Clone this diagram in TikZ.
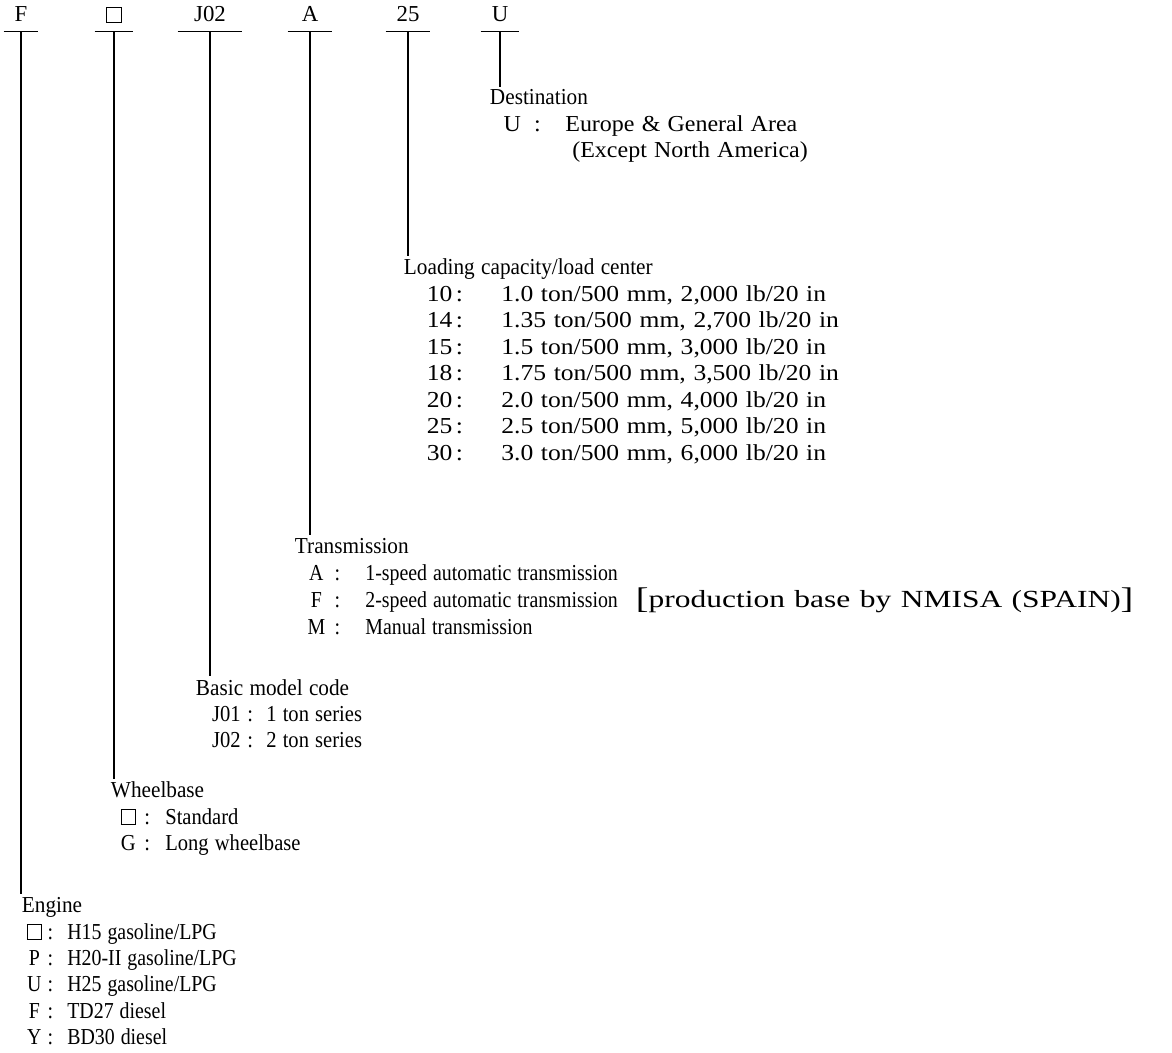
\documentclass[tikz,border=0pt]{standalone}
\usepackage{fontspec}
\setmainfont{Liberation Serif}[WordSpace=1.2]
\usepackage{array}
\usepackage{graphicx}
\usepackage{tikz}
\usetikzlibrary{positioning}

\newcommand{\blankbox}{{\setlength{\fboxsep}{0pt}\setlength{\fboxrule}{0.5pt}\fbox{\rule{0pt}{0.62em}\hspace{0.58em}}}}
\newcommand{\tallbr}[1]{{\fontsize{17}{15.08}\selectfont\raisebox{-0.5pt}{#1}}}

\begin{document}
\begin{tikzpicture}[
    x=0.02cm, y=-0.02cm,
    font=\fontsize{13}{15.08}\selectfont,
    code/.style={anchor=base, inner xsep=0pt, inner ysep=5pt, text depth=0pt, minimum width=#1},
    code/.default=0.7cm,
    heading/.style={anchor=base west, inner sep=1.5pt, font=\fontsize{13}{15.08}\selectfont\addfontfeatures{FakeStretch=0.93}},
    items/.style={anchor=base west, inner sep=0pt, font=\fontsize{13}{15.08}\selectfont\addfontfeatures{FakeStretch=#1}},
    items/.default=1,
    leader/.style={line width=0.7pt}
]
    \useasboundingbox (0,0) rectangle (1172,1053);

    % model code (top row)
    \node[code=0.68cm] (cf) at (21, 22) {F};
    \node[code=0.76cm] (cw) at (114, 22) {\blankbox};
    \node[code=1.28cm] (cj) at (210, 22) {J02};
    \node[code=0.88cm] (ca) at (310, 22) {A};
    \node[code=0.88cm] (cl) at (408, 22) {25};
    \node[code=0.76cm] (cu) at (500, 22) {U};
    \foreach \c in {cf, cw, cj, ca, cl, cu}
        \draw[leader] (\c.south west) -- (\c.south east);

    % Destination
    \node[heading] (dest) at (487, 105) {Destination};
    \node[items=1.05] (destl) at (504, 131.5) {\begin{tabular}[t]{@{}w{c}{0.32cm}@{}w{c}{0.68cm}@{\hspace{0.22cm}}l@{}}
        U & : & Europe \& General Area\\
          &   & \hspace*{0.14cm}(Except North America)
    \end{tabular}};

    % Loading capacity
    \node[heading] (load) at (401, 275) {Loading capacity/load center};
    \node[items=1.12] (loadl) at (422, 301.5) {\begin{tabular}[t]{@{}w{r}{0.6cm}@{}w{c}{0.28cm}@{\hspace{0.7cm}}l@{}}
        10 & : & 1.0 ton/500 mm, 2,000 lb/20 in\\
        14 & : & 1.35 ton/500 mm, 2,700 lb/20 in\\
        15 & : & 1.5 ton/500 mm, 3,000 lb/20 in\\
        18 & : & 1.75 ton/500 mm, 3,500 lb/20 in\\
        20 & : & 2.0 ton/500 mm, 4,000 lb/20 in\\
        25 & : & 2.5 ton/500 mm, 5,000 lb/20 in\\
        30 & : & 3.0 ton/500 mm, 6,000 lb/20 in
    \end{tabular}};

    % Transmission
    \node[heading] (trans) at (292, 553.5) {Transmission};
    \node[items=0.87] (transl) at (306, 580) {\begin{tabular}[t]{@{}w{c}{0.4cm}@{}w{c}{0.44cm}@{\hspace{0.34cm}}l@{}}
        A & : & 1-speed automatic transmission\\
        F & : & 2-speed automatic transmission\hspace{0.36cm}{\fontsize{14}{15.08}\selectfont\addfontfeatures{FakeStretch=1.28}\tallbr{[}production base by NMISA (SPAIN)\tallbr{]}}\\
        M & : & Manual transmission
    \end{tabular}};

    % Basic model code
    \node[heading] (basic) at (193, 695) {Basic model code};
    \node[items=0.9] (basicl) at (210, 721.5) {\begin{tabular}[t]{@{}w{c}{0.64cm}@{}w{c}{0.32cm}@{\hspace{0.16cm}}l@{}}
        J01 & : & 1 ton series\\
        J02 & : & 2 ton series
    \end{tabular}};

    % Wheelbase
    \node[heading] (wheel) at (108, 797.5) {Wheelbase};
    \node[items=0.9] (wheell) at (120, 824) {\begin{tabular}[t]{@{}w{c}{0.32cm}@{}w{c}{0.44cm}@{\hspace{0.14cm}}l@{}}
        \blankbox & : & Standard\\
        G & : & Long wheelbase
    \end{tabular}};

    % Engine
    \node[heading] (eng) at (19, 912.5) {Engine};
    \node[items=0.87] (engl) at (26, 939) {\begin{tabular}[t]{@{}w{c}{0.32cm}@{}w{c}{0.32cm}@{\hspace{0.18cm}}l@{}}
        \blankbox & : & H15 gasoline/LPG\\
        P & : & H20-II gasoline/LPG\\
        U & : & H25 gasoline/LPG\\
        F & : & TD27 diesel\\
        Y & : & BD30 diesel
    \end{tabular}};

    % leaders: code -> heading
    \draw[leader] (cu.south) -- (cu.south |- dest.north);
    \draw[leader] (cl.south) -- (cl.south |- load.north);
    \draw[leader] (ca.south) -- (ca.south |- trans.north);
    \draw[leader] (cj.south) -- (cj.south |- basic.north);
    \draw[leader] (cw.south) -- (cw.south |- wheel.north);
    \draw[leader] (cf.south) -- (cf.south |- eng.north);
\end{tikzpicture}
\end{document}
